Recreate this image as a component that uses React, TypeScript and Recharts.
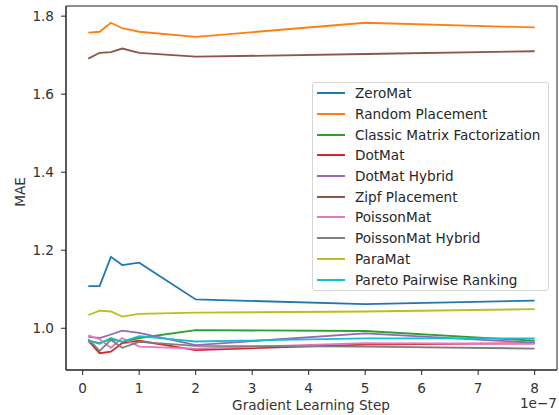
import { LineChart, Line, XAxis, YAxis, Legend, ReferenceArea } from "recharts";

// x values are in units of 1e-7
const steps = [0.1, 0.3, 0.5, 0.7, 1, 2, 5, 8];

const zeroMat = [1.108, 1.108, 1.183, 1.162, 1.168, 1.074, 1.062, 1.071];
const randomPlacement = [1.758, 1.76, 1.783, 1.769, 1.76, 1.747, 1.783, 1.771];
const classicMF = [0.968, 0.962, 0.972, 0.965, 0.975, 0.995, 0.993, 0.968];
const dotMat = [0.968, 0.936, 0.94, 0.962, 0.968, 0.944, 0.958, 0.962];
const dotMatHybrid = [0.978, 0.975, 0.984, 0.994, 0.988, 0.957, 0.987, 0.963];
const zipfPlacement = [1.691, 1.706, 1.708, 1.717, 1.706, 1.696, 1.703, 1.71];
const poissonMat = [0.982, 0.972, 0.95, 0.975, 0.953, 0.948, 0.962, 0.96];
const poissonMatHybrid = [0.972, 0.942, 0.97, 0.95, 0.965, 0.955, 0.953, 0.948];
const paraMat = [1.034, 1.045, 1.043, 1.03, 1.037, 1.04, 1.043, 1.049];
const paretoRanking = [0.968, 0.96, 0.975, 0.965, 0.98, 0.966, 0.974, 0.974];

const xTicks = [0, 1, 2, 3, 4, 5, 6, 7, 8];
const yTicks = [1.0, 1.2, 1.4, 1.6, 1.8];

const series = [
  { key: "zeroMat", name: "ZeroMat", values: zeroMat, color: "#1f77b4" },
  { key: "random", name: "Random Placement", values: randomPlacement, color: "#ff7f0e" },
  { key: "classic", name: "Classic Matrix Factorization", values: classicMF, color: "#2ca02c" },
  { key: "dotMat", name: "DotMat", values: dotMat, color: "#d62728" },
  { key: "dotMatHybrid", name: "DotMat Hybrid", values: dotMatHybrid, color: "#9467bd" },
  { key: "zipf", name: "Zipf Placement", values: zipfPlacement, color: "#8c564b" },
  { key: "poisson", name: "PoissonMat", values: poissonMat, color: "#e377c2" },
  { key: "poissonHybrid", name: "PoissonMat Hybrid", values: poissonMatHybrid, color: "#7f7f7f" },
  { key: "paraMat", name: "ParaMat", values: paraMat, color: "#bcbd22" },
  { key: "pareto", name: "Pareto Pairwise Ranking", values: paretoRanking, color: "#17becf" },
];

const data = steps.map((step, i) => {
  const row: Record<string, number> = { step };
  series.forEach((s) => (row[s.key] = s.values[i]));
  return row;
});

const FONT = "'DejaVu Sans', sans-serif";
const FS = 13.6;
const X_DOMAIN: [number, number] = [-0.295, 8.395];
const Y_DOMAIN: [number, number] = [0.893, 1.826];

const LegendBox = () => (
  <div
    style={{
      width: 235,
      border: "1px solid #d5d5d5",
      borderRadius: 3,
      background: "rgba(255,255,255,0.85)",
      fontFamily: FONT,
      fontSize: FS,
      color: "#262626",
    }}
  >
    {series.map((s) => (
      <div key={s.key} style={{ height: 20.7, display: "flex", alignItems: "center" }}>
        <svg width={38} height={10} style={{ marginLeft: 4 }}>
          <line x1={0} y1={5} x2={28} y2={5} stroke={s.color} strokeWidth={2} />
        </svg>
        <span style={{ whiteSpace: "nowrap" }}>{s.name}</span>
      </div>
    ))}
  </div>
);

export default function App() {
  return (
    <div style={{ position: "absolute", left: 0, top: 0, width: 559, height: 415, background: "#fff" }}>
      <LineChart width={559} height={415} data={data} margin={{ top: 6, right: 2, left: 0, bottom: 0 }}>
        <XAxis
          dataKey="step"
          type="number"
          domain={X_DOMAIN}
          ticks={xTicks}
          allowDataOverflow
          height={45}
          tickSize={5}
          tickMargin={8}
          stroke="#222"
          tick={{ fontSize: FS, fill: "#333", fontFamily: FONT }}
        />
        <YAxis
          type="number"
          domain={Y_DOMAIN}
          ticks={yTicks}
          allowDataOverflow
          width={66}
          tickSize={5}
          tickMargin={7}
          stroke="#222"
          tickFormatter={(v: number) => v.toFixed(1)}
          tick={{ fontSize: FS, fill: "#333", fontFamily: FONT }}
        />
        <ReferenceArea
          x1={X_DOMAIN[0]}
          x2={X_DOMAIN[1]}
          y1={Y_DOMAIN[0]}
          y2={Y_DOMAIN[1]}
          fill="none"
          stroke="#222"
          strokeWidth={1}
          ifOverflow="visible"
        />
        {series.map((s) => (
          <Line
            key={s.key}
            type="linear"
            dataKey={s.key}
            name={s.name}
            stroke={s.color}
            strokeWidth={1.8}
            dot={false}
            isAnimationActive={false}
          />
        ))}
        <Legend
          layout="vertical"
          align="center"
          verticalAlign="middle"
          wrapperStyle={{ left: 312, top: 82, width: 237 }}
          content={() => <LegendBox />}
        />
      </LineChart>

      {/* axis titles */}
      <div
        style={{
          position: "absolute",
          left: 211,
          width: 200,
          top: 397,
          textAlign: "center",
          fontFamily: FONT,
          fontSize: FS,
          color: "#333",
        }}
      >
        Gradient Learning Step
      </div>
      <div
        style={{
          position: "absolute",
          right: 2,
          top: 395,
          fontFamily: FONT,
          fontSize: FS,
          color: "#333",
        }}
      >
        1e−7
      </div>
      <div
        style={{
          position: "absolute",
          left: 20,
          top: 192,
          transform: "translate(-50%, -50%) rotate(-90deg)",
          fontFamily: FONT,
          fontSize: FS,
          color: "#333",
        }}
      >
        MAE
      </div>
    </div>
  );
}
